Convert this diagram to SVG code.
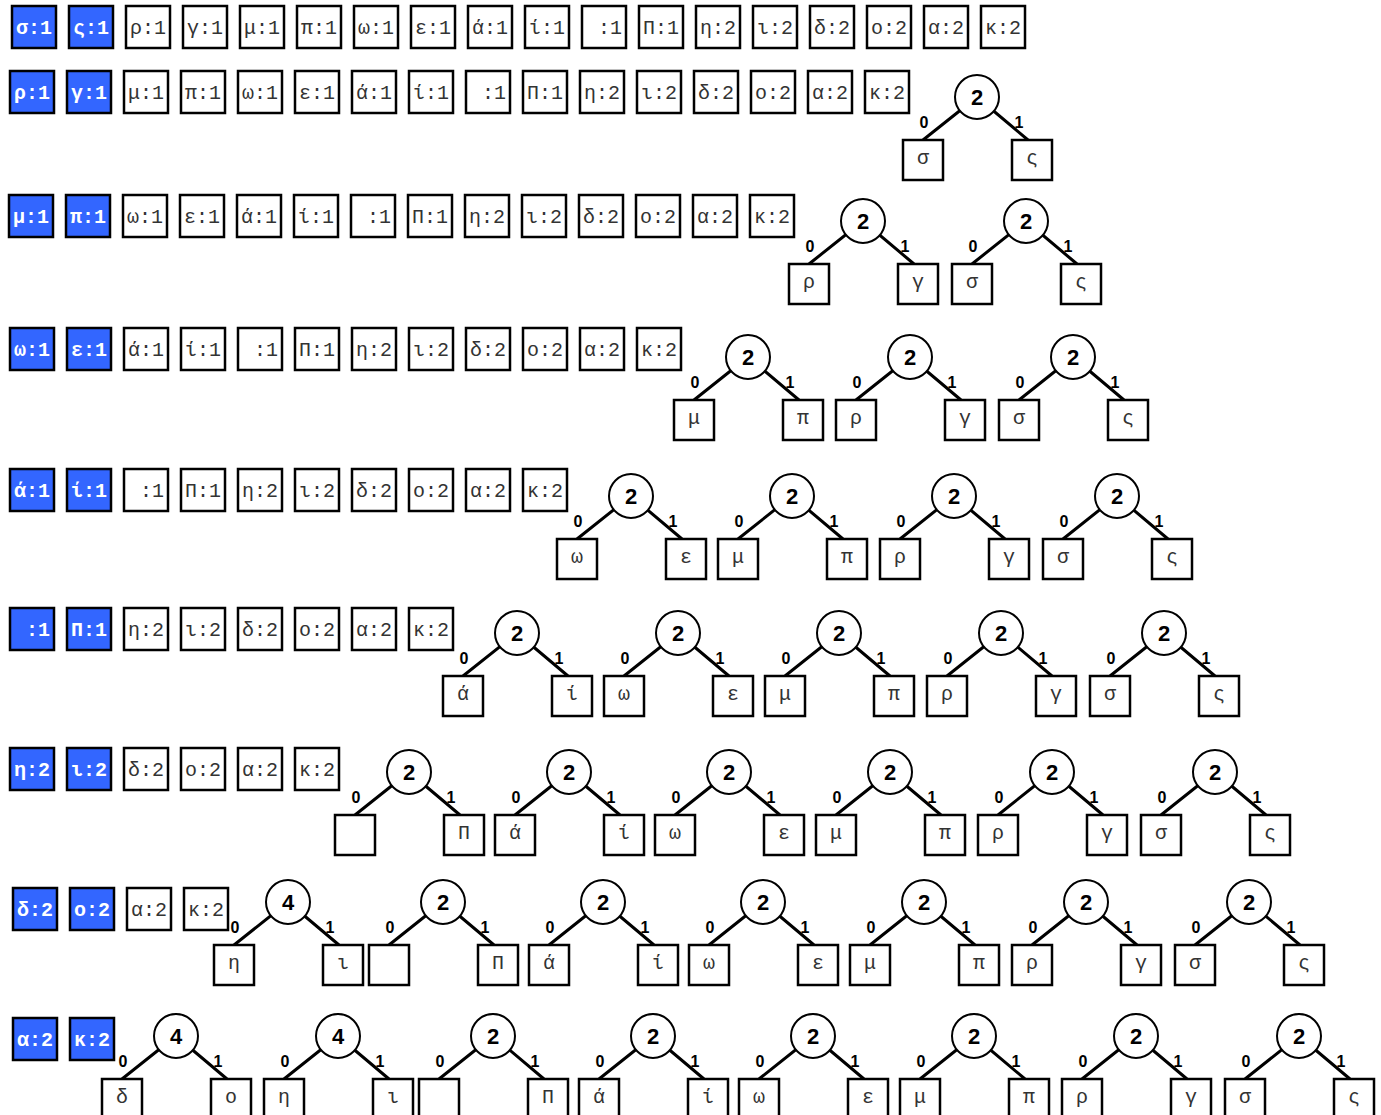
<svg xmlns="http://www.w3.org/2000/svg" width="1381" height="1115" viewBox="0 0 1381 1115">
<style>
.b rect{fill:#fff;stroke:#000;stroke-width:2.5}
.b text,.lf text{font-family:"Liberation Mono","DejaVu Sans Mono",monospace;font-size:20px;text-anchor:middle;fill:#333}
.h rect{fill:#3366ff}
.h text{fill:#fff;font-weight:bold}
.c circle{fill:#fff;stroke:#000;stroke-width:2}
.c text{font-family:"Liberation Sans",Arial,sans-serif;font-weight:bold;font-size:22px;text-anchor:middle;fill:#000}
.lf rect{fill:#fff;stroke:#000;stroke-width:2.5}
#edges path{fill:none;stroke:#000;stroke-width:3}
#edges text{font-family:"Liberation Sans",Arial,sans-serif;font-weight:bold;font-size:16px;text-anchor:middle;fill:#000}
</style>
<rect width="1381" height="1115" fill="#fff"/>
<g id="edges">
<path d="M923,140 L977,97 L1028,140"/><text x="924" y="128">0</text><text x="1019" y="128">1</text>
<path d="M809,264 L863,221 L914,264"/><text x="810" y="252">0</text><text x="905" y="252">1</text>
<path d="M972,264 L1026,221 L1077,264"/><text x="973" y="252">0</text><text x="1068" y="252">1</text>
<path d="M694,400 L748,357 L799,400"/><text x="695" y="388">0</text><text x="790" y="388">1</text>
<path d="M856,400 L910,357 L961,400"/><text x="857" y="388">0</text><text x="952" y="388">1</text>
<path d="M1019,400 L1073,357 L1124,400"/><text x="1020" y="388">0</text><text x="1115" y="388">1</text>
<path d="M577,539 L631,496 L682,539"/><text x="578" y="527">0</text><text x="673" y="527">1</text>
<path d="M738,539 L792,496 L843,539"/><text x="739" y="527">0</text><text x="834" y="527">1</text>
<path d="M900,539 L954,496 L1005,539"/><text x="901" y="527">0</text><text x="996" y="527">1</text>
<path d="M1063,539 L1117,496 L1168,539"/><text x="1064" y="527">0</text><text x="1159" y="527">1</text>
<path d="M463,676 L517,633 L568,676"/><text x="464" y="664">0</text><text x="559" y="664">1</text>
<path d="M624,676 L678,633 L729,676"/><text x="625" y="664">0</text><text x="720" y="664">1</text>
<path d="M785,676 L839,633 L890,676"/><text x="786" y="664">0</text><text x="881" y="664">1</text>
<path d="M947,676 L1001,633 L1052,676"/><text x="948" y="664">0</text><text x="1043" y="664">1</text>
<path d="M1110,676 L1164,633 L1215,676"/><text x="1111" y="664">0</text><text x="1206" y="664">1</text>
<path d="M355,815 L409,772 L460,815"/><text x="356" y="803">0</text><text x="451" y="803">1</text>
<path d="M515,815 L569,772 L620,815"/><text x="516" y="803">0</text><text x="611" y="803">1</text>
<path d="M675,815 L729,772 L780,815"/><text x="676" y="803">0</text><text x="771" y="803">1</text>
<path d="M836,815 L890,772 L941,815"/><text x="837" y="803">0</text><text x="932" y="803">1</text>
<path d="M998,815 L1052,772 L1103,815"/><text x="999" y="803">0</text><text x="1094" y="803">1</text>
<path d="M1161,815 L1215,772 L1266,815"/><text x="1162" y="803">0</text><text x="1257" y="803">1</text>
<path d="M234,945 L288,902 L339,945"/><text x="235" y="933">0</text><text x="330" y="933">1</text>
<path d="M389,945 L443,902 L494,945"/><text x="390" y="933">0</text><text x="485" y="933">1</text>
<path d="M549,945 L603,902 L654,945"/><text x="550" y="933">0</text><text x="645" y="933">1</text>
<path d="M709,945 L763,902 L814,945"/><text x="710" y="933">0</text><text x="805" y="933">1</text>
<path d="M870,945 L924,902 L975,945"/><text x="871" y="933">0</text><text x="966" y="933">1</text>
<path d="M1032,945 L1086,902 L1137,945"/><text x="1033" y="933">0</text><text x="1128" y="933">1</text>
<path d="M1195,945 L1249,902 L1300,945"/><text x="1196" y="933">0</text><text x="1291" y="933">1</text>
<path d="M122,1079 L176,1036 L227,1079"/><text x="123" y="1067">0</text><text x="218" y="1067">1</text>
<path d="M284,1079 L338,1036 L389,1079"/><text x="285" y="1067">0</text><text x="380" y="1067">1</text>
<path d="M439,1079 L493,1036 L544,1079"/><text x="440" y="1067">0</text><text x="535" y="1067">1</text>
<path d="M599,1079 L653,1036 L704,1079"/><text x="600" y="1067">0</text><text x="695" y="1067">1</text>
<path d="M759,1079 L813,1036 L864,1079"/><text x="760" y="1067">0</text><text x="855" y="1067">1</text>
<path d="M920,1079 L974,1036 L1025,1079"/><text x="921" y="1067">0</text><text x="1016" y="1067">1</text>
<path d="M1082,1079 L1136,1036 L1187,1079"/><text x="1083" y="1067">0</text><text x="1178" y="1067">1</text>
<path d="M1245,1079 L1299,1036 L1350,1079"/><text x="1246" y="1067">0</text><text x="1341" y="1067">1</text>
</g>
<g id="row1">
<g id="r1-0" class="b h" transform="translate(12,6)"><rect width="44" height="42"/><text x="22" y="28">σ:1</text></g>
<g id="r1-1" class="b h" transform="translate(69,6)"><rect width="44" height="42"/><text x="22" y="28">ς:1</text></g>
<g id="r1-2" class="b" transform="translate(126,6)"><rect width="44" height="42"/><text x="22" y="28">ρ:1</text></g>
<g id="r1-3" class="b" transform="translate(183,6)"><rect width="44" height="42"/><text x="22" y="28">γ:1</text></g>
<g id="r1-4" class="b" transform="translate(240,6)"><rect width="44" height="42"/><text x="22" y="28">μ:1</text></g>
<g id="r1-5" class="b" transform="translate(297,6)"><rect width="44" height="42"/><text x="22" y="28">π:1</text></g>
<g id="r1-6" class="b" transform="translate(354,6)"><rect width="44" height="42"/><text x="22" y="28">ω:1</text></g>
<g id="r1-7" class="b" transform="translate(411,6)"><rect width="44" height="42"/><text x="22" y="28">ε:1</text></g>
<g id="r1-8" class="b" transform="translate(468,6)"><rect width="44" height="42"/><text x="22" y="28">ά:1</text></g>
<g id="r1-9" class="b" transform="translate(525,6)"><rect width="44" height="42"/><text x="22" y="28">ί:1</text></g>
<g id="r1-10" class="b" transform="translate(582,6)"><rect width="44" height="42"/><text x="22" y="28">&#160;:1</text></g>
<g id="r1-11" class="b" transform="translate(639,6)"><rect width="44" height="42"/><text x="22" y="28">Π:1</text></g>
<g id="r1-12" class="b" transform="translate(696,6)"><rect width="44" height="42"/><text x="22" y="28">η:2</text></g>
<g id="r1-13" class="b" transform="translate(753,6)"><rect width="44" height="42"/><text x="22" y="28">ι:2</text></g>
<g id="r1-14" class="b" transform="translate(810,6)"><rect width="44" height="42"/><text x="22" y="28">δ:2</text></g>
<g id="r1-15" class="b" transform="translate(867,6)"><rect width="44" height="42"/><text x="22" y="28">ο:2</text></g>
<g id="r1-16" class="b" transform="translate(924,6)"><rect width="44" height="42"/><text x="22" y="28">α:2</text></g>
<g id="r1-17" class="b" transform="translate(981,6)"><rect width="44" height="42"/><text x="22" y="28">κ:2</text></g>
</g>
<g id="row2">
<g id="r2-0" class="b h" transform="translate(10,71)"><rect width="44" height="42"/><text x="22" y="28">ρ:1</text></g>
<g id="r2-1" class="b h" transform="translate(67,71)"><rect width="44" height="42"/><text x="22" y="28">γ:1</text></g>
<g id="r2-2" class="b" transform="translate(124,71)"><rect width="44" height="42"/><text x="22" y="28">μ:1</text></g>
<g id="r2-3" class="b" transform="translate(181,71)"><rect width="44" height="42"/><text x="22" y="28">π:1</text></g>
<g id="r2-4" class="b" transform="translate(238,71)"><rect width="44" height="42"/><text x="22" y="28">ω:1</text></g>
<g id="r2-5" class="b" transform="translate(295,71)"><rect width="44" height="42"/><text x="22" y="28">ε:1</text></g>
<g id="r2-6" class="b" transform="translate(352,71)"><rect width="44" height="42"/><text x="22" y="28">ά:1</text></g>
<g id="r2-7" class="b" transform="translate(409,71)"><rect width="44" height="42"/><text x="22" y="28">ί:1</text></g>
<g id="r2-8" class="b" transform="translate(466,71)"><rect width="44" height="42"/><text x="22" y="28">&#160;:1</text></g>
<g id="r2-9" class="b" transform="translate(523,71)"><rect width="44" height="42"/><text x="22" y="28">Π:1</text></g>
<g id="r2-10" class="b" transform="translate(580,71)"><rect width="44" height="42"/><text x="22" y="28">η:2</text></g>
<g id="r2-11" class="b" transform="translate(637,71)"><rect width="44" height="42"/><text x="22" y="28">ι:2</text></g>
<g id="r2-12" class="b" transform="translate(694,71)"><rect width="44" height="42"/><text x="22" y="28">δ:2</text></g>
<g id="r2-13" class="b" transform="translate(751,71)"><rect width="44" height="42"/><text x="22" y="28">ο:2</text></g>
<g id="r2-14" class="b" transform="translate(808,71)"><rect width="44" height="42"/><text x="22" y="28">α:2</text></g>
<g id="r2-15" class="b" transform="translate(865,71)"><rect width="44" height="42"/><text x="22" y="28">κ:2</text></g>
</g>
<g id="row3">
<g id="r3-0" class="b h" transform="translate(9,195)"><rect width="44" height="42"/><text x="22" y="28">μ:1</text></g>
<g id="r3-1" class="b h" transform="translate(66,195)"><rect width="44" height="42"/><text x="22" y="28">π:1</text></g>
<g id="r3-2" class="b" transform="translate(123,195)"><rect width="44" height="42"/><text x="22" y="28">ω:1</text></g>
<g id="r3-3" class="b" transform="translate(180,195)"><rect width="44" height="42"/><text x="22" y="28">ε:1</text></g>
<g id="r3-4" class="b" transform="translate(237,195)"><rect width="44" height="42"/><text x="22" y="28">ά:1</text></g>
<g id="r3-5" class="b" transform="translate(294,195)"><rect width="44" height="42"/><text x="22" y="28">ί:1</text></g>
<g id="r3-6" class="b" transform="translate(351,195)"><rect width="44" height="42"/><text x="22" y="28">&#160;:1</text></g>
<g id="r3-7" class="b" transform="translate(408,195)"><rect width="44" height="42"/><text x="22" y="28">Π:1</text></g>
<g id="r3-8" class="b" transform="translate(465,195)"><rect width="44" height="42"/><text x="22" y="28">η:2</text></g>
<g id="r3-9" class="b" transform="translate(522,195)"><rect width="44" height="42"/><text x="22" y="28">ι:2</text></g>
<g id="r3-10" class="b" transform="translate(579,195)"><rect width="44" height="42"/><text x="22" y="28">δ:2</text></g>
<g id="r3-11" class="b" transform="translate(636,195)"><rect width="44" height="42"/><text x="22" y="28">ο:2</text></g>
<g id="r3-12" class="b" transform="translate(693,195)"><rect width="44" height="42"/><text x="22" y="28">α:2</text></g>
<g id="r3-13" class="b" transform="translate(750,195)"><rect width="44" height="42"/><text x="22" y="28">κ:2</text></g>
</g>
<g id="row4">
<g id="r4-0" class="b h" transform="translate(10,328)"><rect width="44" height="42"/><text x="22" y="28">ω:1</text></g>
<g id="r4-1" class="b h" transform="translate(67,328)"><rect width="44" height="42"/><text x="22" y="28">ε:1</text></g>
<g id="r4-2" class="b" transform="translate(124,328)"><rect width="44" height="42"/><text x="22" y="28">ά:1</text></g>
<g id="r4-3" class="b" transform="translate(181,328)"><rect width="44" height="42"/><text x="22" y="28">ί:1</text></g>
<g id="r4-4" class="b" transform="translate(238,328)"><rect width="44" height="42"/><text x="22" y="28">&#160;:1</text></g>
<g id="r4-5" class="b" transform="translate(295,328)"><rect width="44" height="42"/><text x="22" y="28">Π:1</text></g>
<g id="r4-6" class="b" transform="translate(352,328)"><rect width="44" height="42"/><text x="22" y="28">η:2</text></g>
<g id="r4-7" class="b" transform="translate(409,328)"><rect width="44" height="42"/><text x="22" y="28">ι:2</text></g>
<g id="r4-8" class="b" transform="translate(466,328)"><rect width="44" height="42"/><text x="22" y="28">δ:2</text></g>
<g id="r4-9" class="b" transform="translate(523,328)"><rect width="44" height="42"/><text x="22" y="28">ο:2</text></g>
<g id="r4-10" class="b" transform="translate(580,328)"><rect width="44" height="42"/><text x="22" y="28">α:2</text></g>
<g id="r4-11" class="b" transform="translate(637,328)"><rect width="44" height="42"/><text x="22" y="28">κ:2</text></g>
</g>
<g id="row5">
<g id="r5-0" class="b h" transform="translate(10,469)"><rect width="44" height="42"/><text x="22" y="28">ά:1</text></g>
<g id="r5-1" class="b h" transform="translate(67,469)"><rect width="44" height="42"/><text x="22" y="28">ί:1</text></g>
<g id="r5-2" class="b" transform="translate(124,469)"><rect width="44" height="42"/><text x="22" y="28">&#160;:1</text></g>
<g id="r5-3" class="b" transform="translate(181,469)"><rect width="44" height="42"/><text x="22" y="28">Π:1</text></g>
<g id="r5-4" class="b" transform="translate(238,469)"><rect width="44" height="42"/><text x="22" y="28">η:2</text></g>
<g id="r5-5" class="b" transform="translate(295,469)"><rect width="44" height="42"/><text x="22" y="28">ι:2</text></g>
<g id="r5-6" class="b" transform="translate(352,469)"><rect width="44" height="42"/><text x="22" y="28">δ:2</text></g>
<g id="r5-7" class="b" transform="translate(409,469)"><rect width="44" height="42"/><text x="22" y="28">ο:2</text></g>
<g id="r5-8" class="b" transform="translate(466,469)"><rect width="44" height="42"/><text x="22" y="28">α:2</text></g>
<g id="r5-9" class="b" transform="translate(523,469)"><rect width="44" height="42"/><text x="22" y="28">κ:2</text></g>
</g>
<g id="row6">
<g id="r6-0" class="b h" transform="translate(10,608)"><rect width="44" height="42"/><text x="22" y="28">&#160;:1</text></g>
<g id="r6-1" class="b h" transform="translate(67,608)"><rect width="44" height="42"/><text x="22" y="28">Π:1</text></g>
<g id="r6-2" class="b" transform="translate(124,608)"><rect width="44" height="42"/><text x="22" y="28">η:2</text></g>
<g id="r6-3" class="b" transform="translate(181,608)"><rect width="44" height="42"/><text x="22" y="28">ι:2</text></g>
<g id="r6-4" class="b" transform="translate(238,608)"><rect width="44" height="42"/><text x="22" y="28">δ:2</text></g>
<g id="r6-5" class="b" transform="translate(295,608)"><rect width="44" height="42"/><text x="22" y="28">ο:2</text></g>
<g id="r6-6" class="b" transform="translate(352,608)"><rect width="44" height="42"/><text x="22" y="28">α:2</text></g>
<g id="r6-7" class="b" transform="translate(409,608)"><rect width="44" height="42"/><text x="22" y="28">κ:2</text></g>
</g>
<g id="row7">
<g id="r7-0" class="b h" transform="translate(10,748)"><rect width="44" height="42"/><text x="22" y="28">η:2</text></g>
<g id="r7-1" class="b h" transform="translate(67,748)"><rect width="44" height="42"/><text x="22" y="28">ι:2</text></g>
<g id="r7-2" class="b" transform="translate(124,748)"><rect width="44" height="42"/><text x="22" y="28">δ:2</text></g>
<g id="r7-3" class="b" transform="translate(181,748)"><rect width="44" height="42"/><text x="22" y="28">ο:2</text></g>
<g id="r7-4" class="b" transform="translate(238,748)"><rect width="44" height="42"/><text x="22" y="28">α:2</text></g>
<g id="r7-5" class="b" transform="translate(295,748)"><rect width="44" height="42"/><text x="22" y="28">κ:2</text></g>
</g>
<g id="row8">
<g id="r8-0" class="b h" transform="translate(13,888)"><rect width="44" height="42"/><text x="22" y="28">δ:2</text></g>
<g id="r8-1" class="b h" transform="translate(70,888)"><rect width="44" height="42"/><text x="22" y="28">ο:2</text></g>
<g id="r8-2" class="b" transform="translate(127,888)"><rect width="44" height="42"/><text x="22" y="28">α:2</text></g>
<g id="r8-3" class="b" transform="translate(184,888)"><rect width="44" height="42"/><text x="22" y="28">κ:2</text></g>
</g>
<g id="row9">
<g id="r9-0" class="b h" transform="translate(13,1018)"><rect width="44" height="42"/><text x="22" y="28">α:2</text></g>
<g id="r9-1" class="b h" transform="translate(70,1018)"><rect width="44" height="42"/><text x="22" y="28">κ:2</text></g>
</g>
<g id="trees">
<g id="t1" class="c" transform="translate(977,97)"><circle r="22"/><text y="8">2</text></g>
<g id="t1-l" class="lf" transform="translate(903,140)"><rect width="40" height="40"/><text x="20" y="24">σ</text></g>
<g id="t1-r" class="lf" transform="translate(1012,140)"><rect width="40" height="40"/><text x="20" y="24">ς</text></g>

<g id="t2" class="c" transform="translate(863,221)"><circle r="22"/><text y="8">2</text></g>
<g id="t2-l" class="lf" transform="translate(789,264)"><rect width="40" height="40"/><text x="20" y="24">ρ</text></g>
<g id="t2-r" class="lf" transform="translate(898,264)"><rect width="40" height="40"/><text x="20" y="24">γ</text></g>
<g id="t3" class="c" transform="translate(1026,221)"><circle r="22"/><text y="8">2</text></g>
<g id="t3-l" class="lf" transform="translate(952,264)"><rect width="40" height="40"/><text x="20" y="24">σ</text></g>
<g id="t3-r" class="lf" transform="translate(1061,264)"><rect width="40" height="40"/><text x="20" y="24">ς</text></g>

<g id="t4" class="c" transform="translate(748,357)"><circle r="22"/><text y="8">2</text></g>
<g id="t4-l" class="lf" transform="translate(674,400)"><rect width="40" height="40"/><text x="20" y="24">μ</text></g>
<g id="t4-r" class="lf" transform="translate(783,400)"><rect width="40" height="40"/><text x="20" y="24">π</text></g>
<g id="t5" class="c" transform="translate(910,357)"><circle r="22"/><text y="8">2</text></g>
<g id="t5-l" class="lf" transform="translate(836,400)"><rect width="40" height="40"/><text x="20" y="24">ρ</text></g>
<g id="t5-r" class="lf" transform="translate(945,400)"><rect width="40" height="40"/><text x="20" y="24">γ</text></g>
<g id="t6" class="c" transform="translate(1073,357)"><circle r="22"/><text y="8">2</text></g>
<g id="t6-l" class="lf" transform="translate(999,400)"><rect width="40" height="40"/><text x="20" y="24">σ</text></g>
<g id="t6-r" class="lf" transform="translate(1108,400)"><rect width="40" height="40"/><text x="20" y="24">ς</text></g>

<g id="t7" class="c" transform="translate(631,496)"><circle r="22"/><text y="8">2</text></g>
<g id="t7-l" class="lf" transform="translate(557,539)"><rect width="40" height="40"/><text x="20" y="24">ω</text></g>
<g id="t7-r" class="lf" transform="translate(666,539)"><rect width="40" height="40"/><text x="20" y="24">ε</text></g>
<g id="t8" class="c" transform="translate(792,496)"><circle r="22"/><text y="8">2</text></g>
<g id="t8-l" class="lf" transform="translate(718,539)"><rect width="40" height="40"/><text x="20" y="24">μ</text></g>
<g id="t8-r" class="lf" transform="translate(827,539)"><rect width="40" height="40"/><text x="20" y="24">π</text></g>
<g id="t9" class="c" transform="translate(954,496)"><circle r="22"/><text y="8">2</text></g>
<g id="t9-l" class="lf" transform="translate(880,539)"><rect width="40" height="40"/><text x="20" y="24">ρ</text></g>
<g id="t9-r" class="lf" transform="translate(989,539)"><rect width="40" height="40"/><text x="20" y="24">γ</text></g>
<g id="t10" class="c" transform="translate(1117,496)"><circle r="22"/><text y="8">2</text></g>
<g id="t10-l" class="lf" transform="translate(1043,539)"><rect width="40" height="40"/><text x="20" y="24">σ</text></g>
<g id="t10-r" class="lf" transform="translate(1152,539)"><rect width="40" height="40"/><text x="20" y="24">ς</text></g>

<g id="t11" class="c" transform="translate(517,633)"><circle r="22"/><text y="8">2</text></g>
<g id="t11-l" class="lf" transform="translate(443,676)"><rect width="40" height="40"/><text x="20" y="24">ά</text></g>
<g id="t11-r" class="lf" transform="translate(552,676)"><rect width="40" height="40"/><text x="20" y="24">ί</text></g>
<g id="t12" class="c" transform="translate(678,633)"><circle r="22"/><text y="8">2</text></g>
<g id="t12-l" class="lf" transform="translate(604,676)"><rect width="40" height="40"/><text x="20" y="24">ω</text></g>
<g id="t12-r" class="lf" transform="translate(713,676)"><rect width="40" height="40"/><text x="20" y="24">ε</text></g>
<g id="t13" class="c" transform="translate(839,633)"><circle r="22"/><text y="8">2</text></g>
<g id="t13-l" class="lf" transform="translate(765,676)"><rect width="40" height="40"/><text x="20" y="24">μ</text></g>
<g id="t13-r" class="lf" transform="translate(874,676)"><rect width="40" height="40"/><text x="20" y="24">π</text></g>
<g id="t14" class="c" transform="translate(1001,633)"><circle r="22"/><text y="8">2</text></g>
<g id="t14-l" class="lf" transform="translate(927,676)"><rect width="40" height="40"/><text x="20" y="24">ρ</text></g>
<g id="t14-r" class="lf" transform="translate(1036,676)"><rect width="40" height="40"/><text x="20" y="24">γ</text></g>
<g id="t15" class="c" transform="translate(1164,633)"><circle r="22"/><text y="8">2</text></g>
<g id="t15-l" class="lf" transform="translate(1090,676)"><rect width="40" height="40"/><text x="20" y="24">σ</text></g>
<g id="t15-r" class="lf" transform="translate(1199,676)"><rect width="40" height="40"/><text x="20" y="24">ς</text></g>

<g id="t16" class="c" transform="translate(409,772)"><circle r="22"/><text y="8">2</text></g>
<g id="t16-l" class="lf" transform="translate(335,815)"><rect width="40" height="40"/></g>
<g id="t16-r" class="lf" transform="translate(444,815)"><rect width="40" height="40"/><text x="20" y="24">Π</text></g>
<g id="t17" class="c" transform="translate(569,772)"><circle r="22"/><text y="8">2</text></g>
<g id="t17-l" class="lf" transform="translate(495,815)"><rect width="40" height="40"/><text x="20" y="24">ά</text></g>
<g id="t17-r" class="lf" transform="translate(604,815)"><rect width="40" height="40"/><text x="20" y="24">ί</text></g>
<g id="t18" class="c" transform="translate(729,772)"><circle r="22"/><text y="8">2</text></g>
<g id="t18-l" class="lf" transform="translate(655,815)"><rect width="40" height="40"/><text x="20" y="24">ω</text></g>
<g id="t18-r" class="lf" transform="translate(764,815)"><rect width="40" height="40"/><text x="20" y="24">ε</text></g>
<g id="t19" class="c" transform="translate(890,772)"><circle r="22"/><text y="8">2</text></g>
<g id="t19-l" class="lf" transform="translate(816,815)"><rect width="40" height="40"/><text x="20" y="24">μ</text></g>
<g id="t19-r" class="lf" transform="translate(925,815)"><rect width="40" height="40"/><text x="20" y="24">π</text></g>
<g id="t20" class="c" transform="translate(1052,772)"><circle r="22"/><text y="8">2</text></g>
<g id="t20-l" class="lf" transform="translate(978,815)"><rect width="40" height="40"/><text x="20" y="24">ρ</text></g>
<g id="t20-r" class="lf" transform="translate(1087,815)"><rect width="40" height="40"/><text x="20" y="24">γ</text></g>
<g id="t21" class="c" transform="translate(1215,772)"><circle r="22"/><text y="8">2</text></g>
<g id="t21-l" class="lf" transform="translate(1141,815)"><rect width="40" height="40"/><text x="20" y="24">σ</text></g>
<g id="t21-r" class="lf" transform="translate(1250,815)"><rect width="40" height="40"/><text x="20" y="24">ς</text></g>

<g id="t22" class="c" transform="translate(288,902)"><circle r="22"/><text y="8">4</text></g>
<g id="t22-l" class="lf" transform="translate(214,945)"><rect width="40" height="40"/><text x="20" y="24">η</text></g>
<g id="t22-r" class="lf" transform="translate(323,945)"><rect width="40" height="40"/><text x="20" y="24">ι</text></g>
<g id="t23" class="c" transform="translate(443,902)"><circle r="22"/><text y="8">2</text></g>
<g id="t23-l" class="lf" transform="translate(369,945)"><rect width="40" height="40"/></g>
<g id="t23-r" class="lf" transform="translate(478,945)"><rect width="40" height="40"/><text x="20" y="24">Π</text></g>
<g id="t24" class="c" transform="translate(603,902)"><circle r="22"/><text y="8">2</text></g>
<g id="t24-l" class="lf" transform="translate(529,945)"><rect width="40" height="40"/><text x="20" y="24">ά</text></g>
<g id="t24-r" class="lf" transform="translate(638,945)"><rect width="40" height="40"/><text x="20" y="24">ί</text></g>
<g id="t25" class="c" transform="translate(763,902)"><circle r="22"/><text y="8">2</text></g>
<g id="t25-l" class="lf" transform="translate(689,945)"><rect width="40" height="40"/><text x="20" y="24">ω</text></g>
<g id="t25-r" class="lf" transform="translate(798,945)"><rect width="40" height="40"/><text x="20" y="24">ε</text></g>
<g id="t26" class="c" transform="translate(924,902)"><circle r="22"/><text y="8">2</text></g>
<g id="t26-l" class="lf" transform="translate(850,945)"><rect width="40" height="40"/><text x="20" y="24">μ</text></g>
<g id="t26-r" class="lf" transform="translate(959,945)"><rect width="40" height="40"/><text x="20" y="24">π</text></g>
<g id="t27" class="c" transform="translate(1086,902)"><circle r="22"/><text y="8">2</text></g>
<g id="t27-l" class="lf" transform="translate(1012,945)"><rect width="40" height="40"/><text x="20" y="24">ρ</text></g>
<g id="t27-r" class="lf" transform="translate(1121,945)"><rect width="40" height="40"/><text x="20" y="24">γ</text></g>
<g id="t28" class="c" transform="translate(1249,902)"><circle r="22"/><text y="8">2</text></g>
<g id="t28-l" class="lf" transform="translate(1175,945)"><rect width="40" height="40"/><text x="20" y="24">σ</text></g>
<g id="t28-r" class="lf" transform="translate(1284,945)"><rect width="40" height="40"/><text x="20" y="24">ς</text></g>

<g id="t29" class="c" transform="translate(176,1036)"><circle r="22"/><text y="8">4</text></g>
<g id="t29-l" class="lf" transform="translate(102,1079)"><rect width="40" height="40"/><text x="20" y="24">δ</text></g>
<g id="t29-r" class="lf" transform="translate(211,1079)"><rect width="40" height="40"/><text x="20" y="24">ο</text></g>
<g id="t30" class="c" transform="translate(338,1036)"><circle r="22"/><text y="8">4</text></g>
<g id="t30-l" class="lf" transform="translate(264,1079)"><rect width="40" height="40"/><text x="20" y="24">η</text></g>
<g id="t30-r" class="lf" transform="translate(373,1079)"><rect width="40" height="40"/><text x="20" y="24">ι</text></g>
<g id="t31" class="c" transform="translate(493,1036)"><circle r="22"/><text y="8">2</text></g>
<g id="t31-l" class="lf" transform="translate(419,1079)"><rect width="40" height="40"/></g>
<g id="t31-r" class="lf" transform="translate(528,1079)"><rect width="40" height="40"/><text x="20" y="24">Π</text></g>
<g id="t32" class="c" transform="translate(653,1036)"><circle r="22"/><text y="8">2</text></g>
<g id="t32-l" class="lf" transform="translate(579,1079)"><rect width="40" height="40"/><text x="20" y="24">ά</text></g>
<g id="t32-r" class="lf" transform="translate(688,1079)"><rect width="40" height="40"/><text x="20" y="24">ί</text></g>
<g id="t33" class="c" transform="translate(813,1036)"><circle r="22"/><text y="8">2</text></g>
<g id="t33-l" class="lf" transform="translate(739,1079)"><rect width="40" height="40"/><text x="20" y="24">ω</text></g>
<g id="t33-r" class="lf" transform="translate(848,1079)"><rect width="40" height="40"/><text x="20" y="24">ε</text></g>
<g id="t34" class="c" transform="translate(974,1036)"><circle r="22"/><text y="8">2</text></g>
<g id="t34-l" class="lf" transform="translate(900,1079)"><rect width="40" height="40"/><text x="20" y="24">μ</text></g>
<g id="t34-r" class="lf" transform="translate(1009,1079)"><rect width="40" height="40"/><text x="20" y="24">π</text></g>
<g id="t35" class="c" transform="translate(1136,1036)"><circle r="22"/><text y="8">2</text></g>
<g id="t35-l" class="lf" transform="translate(1062,1079)"><rect width="40" height="40"/><text x="20" y="24">ρ</text></g>
<g id="t35-r" class="lf" transform="translate(1171,1079)"><rect width="40" height="40"/><text x="20" y="24">γ</text></g>
<g id="t36" class="c" transform="translate(1299,1036)"><circle r="22"/><text y="8">2</text></g>
<g id="t36-l" class="lf" transform="translate(1225,1079)"><rect width="40" height="40"/><text x="20" y="24">σ</text></g>
<g id="t36-r" class="lf" transform="translate(1334,1079)"><rect width="40" height="40"/><text x="20" y="24">ς</text></g>
</g>
</svg>
